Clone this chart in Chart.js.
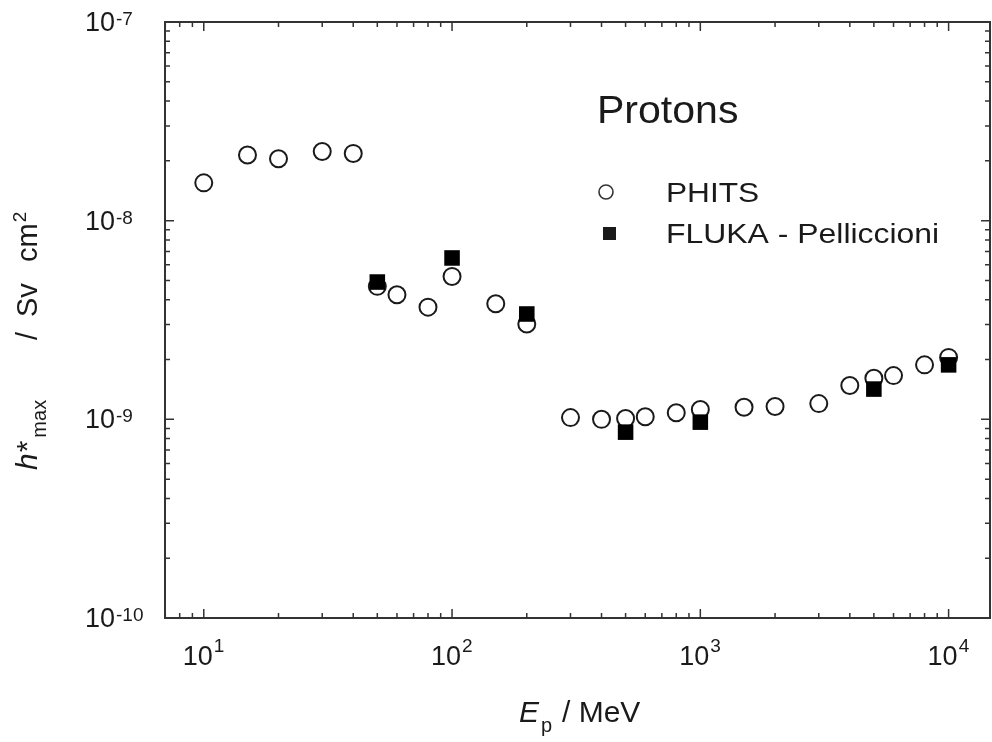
<!DOCTYPE html>
<html>
<head>
<meta charset="utf-8">
<script src="https://cdn.jsdelivr.net/npm/chart.js@4.4.1/dist/chart.umd.min.js"></script>
<style>
  html, body { margin: 0; padding: 0; background: #fff; }
  canvas { display: block; }
</style>
</head>
<body>
<canvas id="chart" width="992" height="742"></canvas>
<script>
// proton energies (MeV) and h*max values (Sv cm2)
const phitsEnergy = [10, 15, 20, 30, 40, 50, 60, 80, 100, 150, 200, 300, 400, 500, 600, 800, 1000, 1500, 2000, 3000, 4000, 5000, 6000, 8000, 10000];
const phitsValues = [1.55e-8, 2.14e-8, 2.05e-8, 2.23e-8, 2.18e-8, 4.67e-9, 4.24e-9, 3.67e-9, 5.24e-9, 3.82e-9, 3.02e-9,
  1.02e-9, 1.00e-9, 1.01e-9, 1.03e-9, 1.08e-9, 1.12e-9, 1.15e-9, 1.16e-9, 1.20e-9, 1.48e-9, 1.61e-9, 1.66e-9, 1.88e-9, 2.05e-9];
const flukaEnergy = [50, 100, 200, 500, 1000, 5000, 10000];
const flukaValues = [4.91e-9, 6.49e-9, 3.39e-9, 8.62e-10, 9.68e-10, 1.42e-9, 1.88e-9];

const xTickExp = [1, 2, 3, 4];
const yTickExp = [-10, -9, -8, -7];

const FONT = '"Liberation Sans", Arial, sans-serif';
const INK = '#1a1a1a';

const toPoints = (xs, ys) => xs.map((x, i) => ({ x: x, y: ys[i] }));

// draws text, returns its drawn width; sx stretches it horizontally
function text(ctx, s, x, y, size, opts) {
  opts = opts || {};
  const sx = opts.sx || 1;
  ctx.font = (opts.italic ? 'italic ' : '') + size + 'px ' + FONT;
  ctx.textAlign = 'left';
  ctx.textBaseline = 'alphabetic';
  ctx.save();
  ctx.translate(x, y);
  ctx.scale(sx, 1);
  ctx.fillText(s, 0, 0);
  ctx.restore();
  return ctx.measureText(s).width * sx;
}

const framePlugin = {
  id: 'frame',
  afterDatasetsDraw(chart) {
    const ctx = chart.ctx;
    const a = chart.chartArea;
    const xs = chart.scales.x, ys = chart.scales.y;
    ctx.save();
    ctx.strokeStyle = '#333';
    ctx.fillStyle = INK;

    // ticks, drawn inward on all four sides
    ctx.lineWidth = 1.5;
    ctx.beginPath();
    for (let d = 0; d <= 4; d++) {
      for (let m = 1; m <= 9; m++) {
        const v = m * Math.pow(10, d);
        if (v < xs.min || v > xs.max) continue;
        const px = xs.getPixelForValue(v);
        const len = m === 1 ? 9 : 5;
        ctx.moveTo(px, a.bottom); ctx.lineTo(px, a.bottom - len);
        ctx.moveTo(px, a.top); ctx.lineTo(px, a.top + len);
      }
    }
    for (let d = -10; d <= -7; d++) {
      for (let m = 1; m <= 9; m++) {
        const v = m * Math.pow(10, d);
        if (v < ys.min * 0.999 || v > ys.max * 1.001) continue;
        const py = ys.getPixelForValue(v);
        const len = m === 1 ? 9 : 5;
        ctx.moveTo(a.left, py); ctx.lineTo(a.left + len, py);
        ctx.moveTo(a.right, py); ctx.lineTo(a.right - len, py);
      }
    }
    ctx.stroke();

    ctx.lineWidth = 2;
    ctx.strokeRect(a.left, a.top, a.right - a.left, a.bottom - a.top);

    // tick labels
    xTickExp.forEach(e => {
      const px = xs.getPixelForValue(Math.pow(10, e));
      const w = text(ctx, '10', px - 21, 665, 27);
      text(ctx, String(e), px - 21 + w + 1, 652, 19);
    });
    yTickExp.forEach(e => {
      const py = ys.getPixelForValue(Math.pow(10, e));
      const w = text(ctx, '10', 85, py + 9, 27);
      text(ctx, String(e), 85 + w + 1, py + 3, 19);
    });

    // x title
    let x = 519;
    x += text(ctx, 'E', x, 722, 30, { italic: true });
    text(ctx, 'p', x + 2, 732, 20);
    text(ctx, '/ MeV', 562, 722, 30);

    // y title, rotated
    ctx.save();
    ctx.translate(37, 470);
    ctx.rotate(-Math.PI / 2);
    let t = 0;
    t += text(ctx, 'h', t, 0, 30, { italic: true });
    t += text(ctx, '*', t + 1, 0, 30);
    text(ctx, 'max', t + 4, 9, 20);
    text(ctx, '/', 130, 0, 29);
    text(ctx, 'Sv', 153, 0, 29);
    const cw = text(ctx, 'cm', 208, 0, 29);
    text(ctx, '2', 208 + cw + 1, -11, 19);
    ctx.restore();

    // legend
    text(ctx, 'Protons', 597, 123, 38, { sx: 1.08 });
    ctx.beginPath();
    ctx.lineWidth = 1.6;
    ctx.arc(606, 192, 7, 0, Math.PI * 2);
    ctx.stroke();
    ctx.fillRect(603, 227, 13, 13);
    text(ctx, 'PHITS', 666, 202, 28, { sx: 1.13 });
    text(ctx, 'FLUKA - Pelliccioni', 666, 243, 28, { sx: 1.14 });

    ctx.restore();
  }
};

new Chart(document.getElementById('chart'), {
  type: 'scatter',
  data: {
    datasets: [
      {
        label: 'FLUKA - Pelliccioni',
        data: toPoints(flukaEnergy, flukaValues),
        pointStyle: 'rect',
        pointRadius: 11,
        borderWidth: 0,
        backgroundColor: '#000',
        borderColor: '#000'
      },
      {
        label: 'PHITS',
        data: toPoints(phitsEnergy, phitsValues),
        pointStyle: 'circle',
        pointRadius: 8.5,
        borderWidth: 2,
        backgroundColor: '#fff',
        borderColor: INK
      }
    ]
  },
  options: {
    responsive: false,
    animation: false,
    layout: { autoPadding: false, padding: { left: 165, right: 2, top: 22, bottom: 124 } },
    plugins: { legend: { display: false }, tooltip: { enabled: false } },
    scales: {
      x: { type: 'logarithmic', min: 6.98, max: 14680, display: false },
      y: { type: 'logarithmic', min: 1e-10, max: 1e-7, display: false }
    }
  },
  plugins: [framePlugin]
});
</script>
</body>
</html>
